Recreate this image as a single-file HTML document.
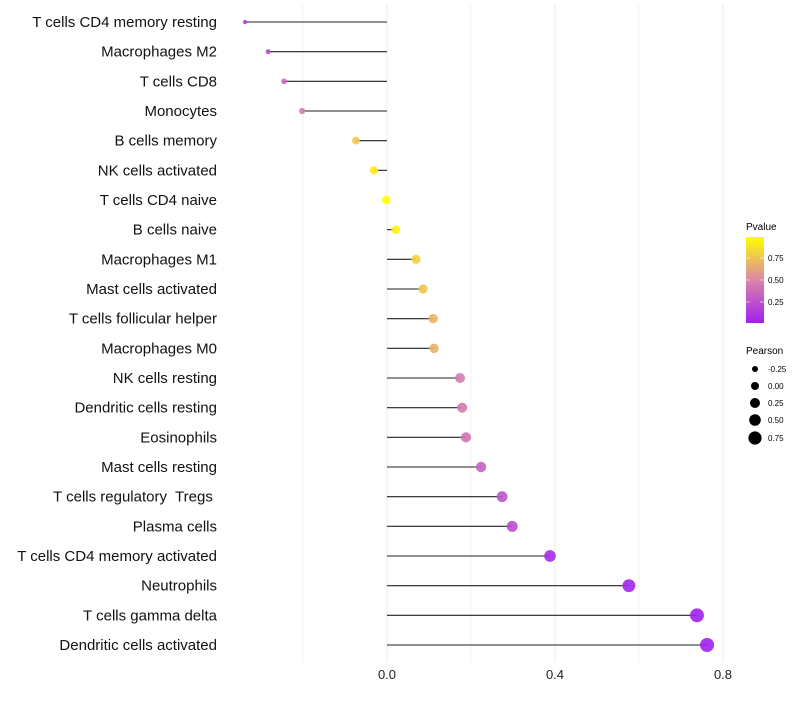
<!DOCTYPE html>
<html><head><meta charset="utf-8"><style>
body{margin:0;background:#fff;font-family:"Liberation Sans",sans-serif}
svg text{font-family:"Liberation Sans",sans-serif;white-space:pre}
</style></head><body>
<svg id="chart" width="800" height="700">
<defs>
<linearGradient id="pg" x1="0" y1="1" x2="0" y2="0">
<stop offset="0" stop-color="#A020F0"/><stop offset="0.5" stop-color="#DA86A8"/><stop offset="1" stop-color="#FFFF00"/>
</linearGradient>
</defs>
<g id="grid"></g><g id="marks"></g><g id="labels"></g>
<g>
<text x="746" y="230" font-size="10">Pvalue</text>
<rect x="746" y="237" width="18" height="86" fill="url(#pg)"/>
<line x1="746" x2="750" y1="258" y2="258" stroke="#fff" opacity="0.6"/><line x1="760" x2="764" y1="258" y2="258" stroke="#fff" opacity="0.6"/>
<line x1="746" x2="750" y1="280" y2="280" stroke="#fff" opacity="0.6"/><line x1="760" x2="764" y1="280" y2="280" stroke="#fff" opacity="0.6"/>
<line x1="746" x2="750" y1="302" y2="302" stroke="#fff" opacity="0.6"/><line x1="760" x2="764" y1="302" y2="302" stroke="#fff" opacity="0.6"/>
<text x="768" y="261" font-size="8">0.75</text>
<text x="768" y="283" font-size="8">0.50</text>
<text x="768" y="305" font-size="8">0.25</text>
</g>
<g>
<text x="746" y="354" font-size="10">Pearson</text>
<circle cx="755" cy="369" r="3"/><text x="768" y="372" font-size="8">-0.25</text>
<circle cx="755" cy="386" r="4"/><text x="768" y="389" font-size="8">0.00</text>
<circle cx="755" cy="403" r="5"/><text x="768" y="406" font-size="8">0.25</text>
<circle cx="755" cy="420" r="5.8"/><text x="768" y="423" font-size="8">0.50</text>
<circle cx="755" cy="438" r="6.6"/><text x="768" y="441" font-size="8">0.75</text>
</g>
</svg>
<script>
const categories=["T cells CD4 memory resting","Macrophages M2","T cells CD8","Monocytes","B cells memory","NK cells activated","T cells CD4 naive","B cells naive","Macrophages M1","Mast cells activated","T cells follicular helper","Macrophages M0","NK cells resting","Dendritic cells resting","Eosinophils","Mast cells resting","T cells regulatory  Tregs ","Plasma cells","T cells CD4 memory activated","Neutrophils","T cells gamma delta","Dendritic cells activated"];
const pearson=[-0.338,-0.283,-0.245,-0.202,-0.074,-0.031,-0.002,0.021,0.069,0.086,0.11,0.112,0.174,0.179,0.188,0.224,0.274,0.298,0.388,0.576,0.738,0.762];
const pvalues=[0.12,0.22,0.35,0.45,0.78,0.92,1.0,0.96,0.82,0.76,0.7,0.68,0.45,0.45,0.4,0.33,0.26,0.22,0.06,0.02,0.0,0.0];
const xTicks=[0.0,0.4,0.8];
const grids=[-0.2,0.2,0.6];
const NS="http://www.w3.org/2000/svg";
const x=v=>387+420*v;
const y=i=>22+i*(623/21);
const r=v=>Math.sqrt(Math.max(2,18+41*v));
function lerp(a,b,t){return a.map((c,k)=>Math.round(c+(b[k]-c)*t));}
function col(p){const s=[[160,32,240],[218,134,168],[255,255,0]];
 const c=p<0.5?lerp(s[0],s[1],p/0.5):lerp(s[1],s[2],(p-0.5)/0.5);return `rgb(${c})`;}
function mk(t,a,parent){const e=document.createElementNS(NS,t);for(const k in a)e.setAttribute(k,a[k]);parent.appendChild(e);return e;}
const G=document.getElementById('grid'),M=document.getElementById('marks'),L=document.getElementById('labels');
grids.concat(xTicks).forEach(v=>{const l=mk('line',{x1:x(v),x2:x(v),y1:5,y2:662,stroke:'#ebebeb','stroke-width':grids.includes(v)?0.6:1},G);

});
xTicks.forEach(v=>{const t=mk('text',{x:x(v),y:679,'font-size':13,'text-anchor':'middle',fill:'#222'},L);t.textContent=v.toFixed(1);

});
categories.forEach((c,i)=>{
 const t=mk('text',{x:217,y:y(i)+5,'font-size':15,'text-anchor':'end',fill:'#111'},L);t.textContent=c;
 
 
 const l=mk('line',{x1:x(0),x2:x(pearson[i]),y1:y(i),y2:y(i),stroke:'#222','stroke-width':1.1},M);
 
 
 const p=mk('circle',{cx:x(pearson[i]),cy:y(i),r:r(pearson[i]),fill:col(pvalues[i]),'fill-opacity':0.9},M);
 
 
});
</script>
</body></html>
